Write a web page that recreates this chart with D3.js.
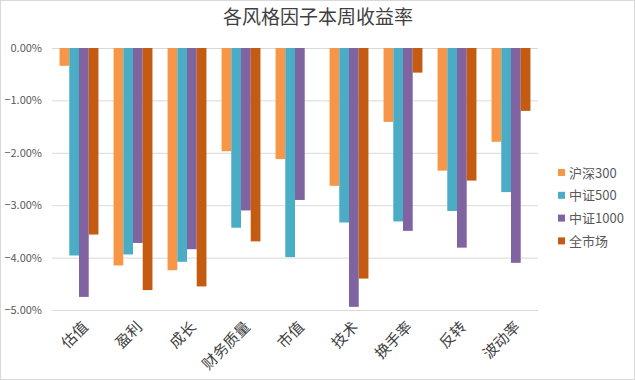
<!DOCTYPE html>
<html>
<head>
<meta charset="utf-8">
<script src="https://cdn.jsdelivr.net/npm/d3@7"></script>
<style>
  body { margin: 0; background: #fff; }
  text { font-family: "Noto Sans CJK SC", "Noto Sans", sans-serif; }
</style>
</head>
<body>
<script>
// chart data
var categories = ["估值", "盈利", "成长", "财务质量", "市值", "技术", "换手率", "反转", "波动率"];
var seriesNames = ["沪深300", "中证500", "中证1000", "全市场"];
var hs300 = [-0.34, -4.15, -4.24, -1.97, -2.12, -2.63, -1.41, -2.34, -1.79];
var zz500 = [-3.96, -3.94, -4.08, -3.43, -3.99, -3.33, -3.31, -3.11, -2.75];
var zz1000 = [-4.75, -3.72, -3.84, -3.10, -2.90, -4.94, -3.49, -3.81, -4.10];
var allMkt = [-3.56, -4.62, -4.55, -3.69, 0, -4.40, -0.47, -2.53, -1.20];
var yTicks = [0, -1, -2, -3, -4, -5];

window.onload = function(){
  var colors = ["#F79646", "#4BACC6", "#8064A2", "#C55A11"];
  var seriesVals = [hs300, zz500, zz1000, allMkt];

  var w = 635, h = 380;
  var plotL = 52, plotR = 538, plotT = 48, plotB = 310;

  var svg = d3.select("body").append("svg")
      .attr("width", w)
      .attr("height", h);

  // outer border
  svg.append("rect")
      .attr("x", 0.5).attr("y", 0.5)
      .attr("width", w - 1).attr("height", h - 1)
      .attr("fill", "#fff")
      .attr("stroke", "#d9d9d9");

  var x0 = d3.scaleBand().domain(categories).range([plotL, plotR]).paddingInner(0.28).paddingOuter(0.14);
  var x1 = d3.scaleBand().domain(seriesNames).range([0, x0.bandwidth()]);
  var y = d3.scaleLinear().domain([0, -5]).range([plotT, plotB]);

  // grid lines
  svg.append("g").selectAll("line")
      .data(yTicks)
      .enter().append("line")
      .attr("x1", plotL).attr("x2", plotR)
      .attr("y1", function(d){ return y(d) + 0.5; })
      .attr("y2", function(d){ return y(d) + 0.5; })
      .attr("stroke", "#d9d9d9")
      .attr("stroke-width", 1);

  // y tick labels
  svg.append("g").selectAll("text")
      .data(yTicks)
      .enter().append("text")
      .attr("x", 42)
      .attr("y", function(d){ return y(d) + 4; })
      .attr("text-anchor", "end")
      .attr("font-size", 11)
      .attr("fill", "#595959")
      .text(function(d){ return d3.format(".2f")(d) + "%"; });

  // bars
  var rows = [];
  categories.forEach(function(c, i){
    seriesNames.forEach(function(s, j){
      rows.push({cat: c, ser: s, val: seriesVals[j][i], color: colors[j]});
    });
  });

  svg.append("g").selectAll("rect")
      .data(rows)
      .enter().append("rect")
      .attr("x", function(d){ return x0(d.cat) + x1(d.ser); })
      .attr("y", y(0))
      .attr("width", x1.bandwidth())
      .attr("height", function(d){ return y(d.val) - y(0); })
      .attr("fill", function(d){ return d.color; });

  // category labels, rotated
  svg.append("g").selectAll("text")
      .data(categories)
      .enter().append("text")
      .attr("transform", function(d){
        var cx = x0(d) + x0.bandwidth() / 2 + 10;
        return "translate(" + cx + ",328) rotate(-45)";
      })
      .attr("text-anchor", "end")
      .attr("font-size", 15)
      .attr("fill", "#404040")
      .text(function(d){ return d; });

  // title
  svg.append("text")
      .attr("x", 318).attr("y", 24)
      .attr("text-anchor", "middle")
      .attr("font-size", 19)
      .attr("fill", "#404040")
      .text("各风格因子本周收益率");

  // legend
  var legend = svg.append("g").selectAll("g")
      .data(seriesNames)
      .enter().append("g")
      .attr("transform", function(d, i){ return "translate(558," + (173 + i * 22.8) + ")"; });

  legend.append("rect")
      .attr("x", 0).attr("y", -4)
      .attr("width", 7).attr("height", 7)
      .attr("fill", function(d, i){ return colors[i]; });

  legend.append("text")
      .attr("x", 11).attr("y", 4.5)
      .attr("font-size", 13)
      .attr("fill", "#595959")
      .text(function(d){ return d; });
};
</script>
</body>
</html>
